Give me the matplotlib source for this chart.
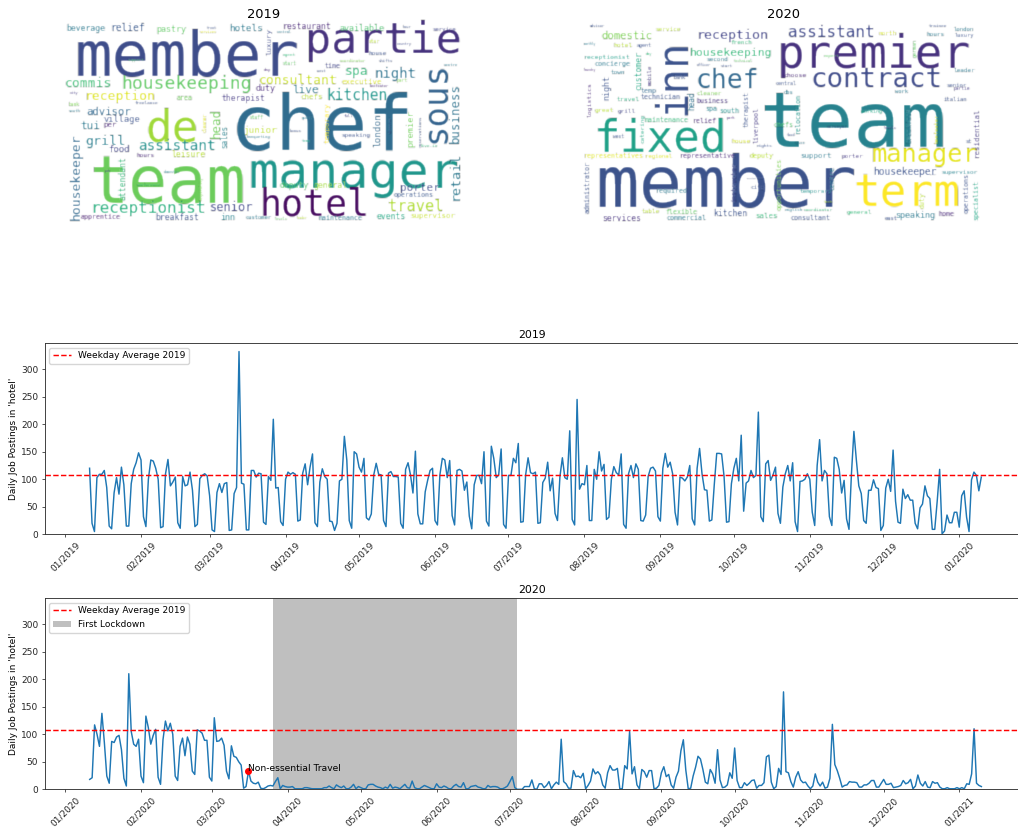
import matplotlib
matplotlib.use('Agg')
import matplotlib.pyplot as plt
import matplotlib.dates as mdates
import numpy as np
import pandas as pd

# daily counts, 2019-01-11 onwards
postings_2019 = [
    120, 20, 5,
    103, 109, 109, 116, 85, 15, 10,
    75, 103, 73, 122, 90, 15, 15,
    92, 118, 130, 148, 135, 32, 14,
    100, 135, 133, 120, 100, 12, 14,
    110, 136, 88, 95, 104, 21, 11,
    105, 88, 90, 113, 80, 14, 18,
    101, 107, 110, 106, 70, 8, 5,
    76, 92, 76, 92, 94, 7, 8,
    74, 85, 332, 93, 91, 8, 8,
    116, 116, 104, 111, 110, 22, 18,
    105, 98, 209, 84, 85, 23, 16,
    100, 113, 109, 112, 109, 24, 26,
    111, 128, 90, 122, 146, 21, 14,
    95, 119, 105, 100, 24, 23, 7,
    20, 97, 100, 178, 135, 25, 11,
    150, 146, 122, 113, 138, 30, 26,
    37, 108, 129, 109, 108, 25, 14,
    111, 114, 105, 105, 104, 20, 11,
    118, 130, 108, 75, 151, 37, 19,
    19, 77, 98, 116, 120, 25, 17,
    108, 138, 135, 103, 134, 34, 17,
    116, 118, 115, 80, 95, 33, 10,
    90, 107, 107, 92, 150, 24, 15,
    160, 138, 103, 108, 155, 18, 11,
    107, 107, 138, 130, 165, 22, 23,
    108, 139, 112, 110, 113, 20, 21,
    94, 102, 131, 79, 102, 38, 25,
    105, 139, 103, 100, 188, 27, 17,
    245, 82, 92, 90, 125, 25, 25,
    118, 100, 150, 115, 127, 27, 31,
    100, 123, 112, 108, 146, 18, 11,
    110, 125, 103, 128, 118, 25, 24,
    35, 105, 120, 122, 115, 32, 24,
    120, 147, 122, 131, 110, 40, 17,
    104, 102, 97, 104, 125, 28, 17,
    120, 156, 110, 81, 80, 24, 26,
    90, 147, 147, 146, 105, 22, 23,
    92, 120, 138, 97, 180, 42, 93,
    97, 116, 103, 107, 222, 32, 23,
    128, 134, 98, 108, 122, 38, 20,
    86, 110, 125, 97, 130, 23, 5,
    96, 97, 100, 110, 100, 40, 16,
    125, 172, 97, 116, 110, 32, 16,
    140, 138, 118, 75, 98, 28, 9,
    110, 187, 135, 88, 74, 25, 20,
    80, 80, 99, 85, 83, 7, 16,
    84, 100, 78, 153, 60, 22, 20,
    82, 65, 72, 62, 62, 20, 10,
    48, 55, 88, 70, 65, 9, 9,
    60, 118, 1, 6, 35, 21, 21,
    40, 40, 13, 70, 79, 31, 5,
    99, 113, 107, 79, 104,
]

# daily counts, 2020-01-11 onwards
postings_2020 = [
    18, 21,
    117, 100, 78, 138, 85, 24, 11,
    87, 85, 95, 98, 72, 20, 6,
    210, 105, 82, 78, 91, 24, 12,
    133, 112, 82, 98, 109, 22, 9,
    90, 124, 106, 120, 100, 24, 16,
    78, 93, 61, 95, 82, 33, 27,
    108, 106, 102, 89, 89, 22, 15,
    130, 87, 88, 93, 80, 33, 19,
    79, 60, 58, 50, 44, 2, 5,
    33, 15, 11, 10, 13, 2, 1,
    3, 6, 7, 6, 14, 21, 1,
    7, 5, 4, 4, 5, 1, 1,
    1, 1, 3, 3, 2, 1, 1,
    1, 1, 1, 3, 3, 6, 3,
    1, 8, 5, 3, 6, 1, 1,
    4, 9, 1, 5, 3, 1, 1,
    8, 9, 9, 6, 4, 3, 1,
    4, 2, 9, 2, 4, 3, 1,
    5, 9, 3, 2, 15, 3, 1,
    1, 4, 7, 5, 3, 1, 1,
    10, 4, 3, 6, 4, 1, 1,
    6, 9, 5, 4, 12, 1, 1,
    5, 6, 7, 4, 3, 1, 1,
    7, 4, 5, 5, 4, 1, 1,
    3, 6, 14, 23, 3, 0, 0, 0,
    5, 5, 5, 17, 1, 0,
    10, 10, 3, 7, 14, 1, 8,
    13, 9, 91, 14, 10, 2, 2,
    34, 23, 24, 21, 29, 1, 7,
    15, 37, 28, 32, 26, 8, 2,
    30, 43, 35, 35, 38, 1, 1,
    43, 37, 105, 28, 41, 8, 1,
    36, 32, 22, 34, 34, 1, 2,
    7, 30, 41, 23, 27, 8, 2,
    22, 33, 70, 90, 35, 1, 2,
    24, 40, 60, 55, 36, 13, 10,
    36, 28, 11, 72, 17, 3, 4,
    8, 30, 20, 75, 16, 3, 3,
    12, 7, 11, 16, 17, 2, 7,
    7, 12, 59, 62, 13, 1, 5,
    38, 27, 177, 32, 30, 14, 4,
    22, 32, 17, 12, 13, 6, 1,
    6, 28, 13, 6, 13, 2, 4,
    20, 118, 45, 34, 20, 4, 7,
    8, 14, 13, 13, 12, 4, 4,
    8, 8, 11, 16, 16, 4, 4,
    11, 18, 9, 9, 11, 3, 4,
    5, 7, 16, 10, 12, 18, 1,
    6, 26, 11, 6, 14, 4, 3,
    14, 11, 12, 4, 1, 1, 3,
    1, 1, 1, 3, 1, 3, 1,
    10, 9, 28, 110, 11, 7, 5,
]

weekday_average = 107
ylabel = "Daily Job Postings in 'hotel'"

words_2019 = [
    'member', 'partie', 'chef', 'team', 'manager', 'hotel', 'de', 'sous', 'housekeeping',
    'reception', 'consultant', 'night', 'spa', 'commis', 'kitchen', 'advisor', 'tui', 'per',
    'village', 'grill', 'assistant', 'head', 'sales', 'junior', 'therapist', 'duty', 'live',
    'chefs', 'time', 'house', 'executive', 'temporary', 'london', 'premier', 'business',
    'retail', 'porter', 'travel', 'senior', 'inn', 'receptionist', 'housekeeper', 'food',
    'hours', 'leisure', 'attendant', 'deputy', 'general', 'speaking', 'apprentice',
    'breakfast', 'customer', 'maintenance', 'events', 'supervisor', 'operations', 'beverage',
    'relief', 'pastry', 'hotels', 'restaurant', 'available', 'luxury', 'service', 'area',
    'bank', 'south', 'city', 'freelance', 'beefeater', 'part', 'west', 'centre', 'star',
    'country', 'staff', 'guest', 'full', 'temp', 'banqueting', 'bonus', 'conference',
    'domestic', 'pub', 'levels', 'leader', 'live-in', 'cleaner', 'hour', 'trent', 'services',
    'central', 'agent', 'start', 'support', 'coordinator', 'shifts', 'day', 'director',
    'hospitality', 'reservations',
]
# word: x, baseline y, em size, rotated, colour (in zoomed image units)
place_2019 = {
    'member': (75, 228, 187, 0, '#3e4c8a'), 'partie': (765, 158, 130, 0, '#46337e'),
    'chef': (540, 450, 230, 0, '#2f6c8e'), 'team': (120, 610, 195, 0, '#6ccd5a'),
    'manager': (595, 565, 150, 0, '#1f968b'), 'hotel': (628, 645, 110, 0, '#470d60'),
    'de': (285, 425, 133, 0, '#a0da39'), 'sous': (1185, 430, 102, 1, '#33638d'),
    'housekeeping': (215, 268, 54, 0, '#5ec962'), 'reception': (105, 300, 39, 0, '#dde318'),
    'consultant': (625, 252, 39, 0, '#c8e020'), 'night': (975, 235, 42, 0, '#2c728e'),
    'spa': (885, 225, 39, 0, '#35b779'), 'commis': (45, 260, 39, 0, '#3dbc74'),
    'kitchen': (830, 300, 44, 0, '#1f968b'), 'advisor': (110, 345, 32, 0, '#31688e'),
    'tui': (90, 388, 33, 0, '#2a788e'), 'per': (160, 380, 22, 0, '#482576'),
    'village': (160, 365, 26, 0, '#3b528b'), 'grill': (105, 435, 40, 0, '#287d8e'),
    'assistant': (265, 450, 43, 0, '#21908c'), 'head': (510, 415, 37, 1, '#6ece58'),
    'sales': (532, 445, 23, 1, '#26828e'), 'junior': (580, 398, 28, 0, '#bddf26'),
    'therapist': (515, 302, 24, 0, '#443983'), 'duty': (615, 273, 25, 0, '#482878'),
    'live': (725, 280, 33, 0, '#2a788e'), 'chefs': (750, 298, 22, 0, '#b8de29'),
    'time': (825, 205, 20, 0, '#414487'), 'house': (955, 165, 18, 0, '#3b528b'),
    'executive': (875, 252, 22, 0, '#d8e219'), 'temporary': (840, 430, 22, 1, '#fde725'),
    'london': (990, 440, 28, 1, '#31688e'), 'premier': (1090, 440, 26, 1, '#6ece58'),
    'business': (1228, 430, 37, 1, '#2c728e'), 'retail': (1225, 600, 40, 1, '#2a788e'),
    'porter': (1050, 572, 33, 0, '#3e4a89'), 'travel': (1015, 632, 46, 0, '#addc30'),
    'senior': (480, 632, 36, 0, '#3f4788'), 'inn': (510, 660, 25, 0, '#26828e'),
    'receptionist': (120, 640, 48, 0, '#29af7f'), 'housekeeper': (90, 660, 39, 1, '#31688e'),
    'food': (175, 455, 27, 0, '#414487'), 'hours': (260, 472, 18, 0, '#482878'),
    'leisure': (365, 472, 24, 0, '#b5de2b'), 'attendant': (225, 600, 24, 1, '#35b779'),
    'deputy': (690, 565, 24, 0, '#52c569'), 'general': (790, 565, 24, 0, '#a0da39'),
    'speaking': (875, 410, 18, 0, '#3b528b'), 'apprentice': (92, 658, 20, 0, '#481f70'),
    'breakfast': (315, 660, 24, 0, '#3b528b'), 'customer': (585, 658, 16, 0, '#2a788e'),
    'maintenance': (805, 660, 20, 0, '#2a788e'), 'events': (980, 658, 24, 0, '#22a884'),
    'supervisor': (1080, 655, 22, 0, '#c2df23'), 'operations': (1030, 592, 20, 0, '#39568c'),
    'beverage': (48, 93, 24, 0, '#2a788e'), 'relief': (180, 93, 29, 0, '#38588c'),
    'pastry': (320, 95, 25, 0, '#5ec962'), 'hotels': (538, 93, 28, 0, '#2a788e'),
    'restaurant': (698, 88, 24, 0, '#482677'), 'available': (868, 92, 25, 0, '#4ac16d'),
    'luxury': (665, 165, 22, 1, '#3e4989'), 'service': (1148, 92, 17, 0, '#404688'),
    'area': (380, 300, 20, 0, '#6ece58'), 'bank': (55, 318, 14, 0, '#7ad151'),
    'south': (55, 335, 12, 0, '#2a788e'), 'city': (60, 283, 11, 0, '#443983'),
    'freelance': (255, 312, 13, 0, '#3b528b'), 'beefeater': (960, 262, 11, 0, '#482878'),
    'part': (1040, 247, 14, 0, '#7ad151'), 'west': (800, 215, 11, 0, '#3b528b'),
    'centre': (1180, 197, 12, 0, '#2a788e'), 'star': (955, 130, 14, 0, '#b5de2b'),
    'country': (1040, 135, 11, 0, '#3e4a89'), 'staff': (600, 358, 14, 0, '#5ec962'),
    'guest': (755, 358, 12, 0, '#2a788e'), 'full': (880, 350, 12, 0, '#414487'),
    'temp': (755, 425, 12, 0, '#22a884'), 'banqueting': (590, 413, 12, 0, '#2a788e'),
    'bonus': (720, 395, 12, 0, '#3b528b'), 'conference': (260, 558, 12, 0, '#35b779'),
    'domestic': (340, 518, 10, 0, '#26828e'), 'pub': (165, 515, 10, 0, '#443983'),
    'levels': (675, 660, 11, 0, '#5ec962'), 'leader': (740, 658, 9, 0, '#b5de2b'),
    'live-in': (1110, 442, 13, 0, '#35b779'), 'cleaner': (470, 395, 14, 1, '#dde318'),
    'hour': (1058, 84, 11, 0, '#3b528b'), 'trent': (470, 87, 10, 0, '#3b528b'),
    'services': (450, 100, 11, 0, '#dde318'), 'central': (680, 100, 11, 0, '#2a788e'),
    'agent': (698, 168, 13, 0, '#35b779'), 'start': (698, 195, 14, 0, '#5ec962'),
    'support': (232, 182, 12, 0, '#4ac16d'), 'coordinator': (870, 185, 12, 0, '#7ad151'),
    'shifts': (985, 185, 12, 0, '#3b528b'), 'day': (640, 212, 12, 0, '#482878'),
    'director': (1025, 400, 11, 1, '#3b528b'), 'hospitality': (458, 600, 11, 1, '#7ad151'),
    'reservations': (1115, 440, 13, 1, '#3b528b'),
}

words_2020 = [
    'team', 'member', 'premier', 'contract', 'chef', 'inn', 'fixed', 'term', 'manager',
    'reception', 'assistant', 'housekeeping', 'domestic', 'hotel', 'receptionist', 'concierge',
    'agent', 'customer', 'town', 'night', 'mobile', 'logistics', 'temp', 'travel', 'technician',
    'great', 'grill', 'head', 'cleaner', 'business', 'spa', 'south', 'therapist', 'liverpool',
    'maintenance', 'relief', 'west', 'catering', 'house', 'deputy', 'support', 'porter',
    'representatives', 'regional', 'representative', 'housekeeper', 'supervisor', 'surveyor',
    'working', 'chefs', 'relocation', 'central', 'choose', 'dbs', 'bank', 'breakfast',
    'beefeater', 'st', 'residential', 'speaking', 'home', 'east', 'general', 'operations',
    'specialist', 'duty', 'temporary', 'centre', 'sales', 'opportunities', 'instructor',
    'kitchen', 'services', 'table', 'flexible', 'commercial', 'consultant', 'required', 'city',
    'administrator', 'hours', 'luxury', 'london', 'leader', 'senior', 'partie', 'italian',
    'work', 'north', 'service', 'german', 'second', 'french', 'advisor', 'trainee', 'expert',
    'food', 'sauce', 'levels', 'nights', 'park', 'english', 'coordinator', 'assistant manager',
    'tech', 'director', 'start', 'laundry', 'monthly', 'day', 'officer', 'technical',
]
place_2020 = {
    'team': (570, 440, 232, 0, '#26828e'), 'member': (75, 620, 217, 0, '#3b528b'),
    'premier': (620, 205, 138, 0, '#46327e'), 'contract': (720, 262, 82, 0, '#3e4a89'),
    'chef': (375, 263, 79, 0, '#31688e'), 'inn': (345, 345, 127, 1, '#3b528b'),
    'fixed': (70, 455, 133, 0, '#1fa187'), 'term': (850, 620, 133, 0, '#fde725'),
    'manager': (905, 485, 76, 0, '#e5e419'), 'reception': (380, 118, 40, 0, '#414487'),
    'assistant': (655, 112, 48, 0, '#3f4889'), 'housekeeping': (360, 168, 34, 0, '#35b779'),
    'domestic': (95, 118, 32, 0, '#7ad151'), 'hotel': (130, 142, 19, 0, '#b5de2b'),
    'receptionist': (42, 178, 19, 0, '#1f9e89'), 'concierge': (72, 198, 20, 0, '#2a788e'),
    'agent': (200, 142, 15, 0, '#3b528b'), 'customer': (215, 270, 24, 1, '#22a884'),
    'town': (122, 222, 18, 0, '#2a788e'), 'night': (118, 300, 25, 1, '#3b528b'),
    'mobile': (245, 255, 17, 1, '#443983'), 'logistics': (65, 350, 19, 1, '#482878'),
    'temp': (212, 278, 20, 0, '#31688e'), 'travel': (140, 302, 19, 0, '#29af7f'),
    'technician': (212, 298, 20, 0, '#3b528b'), 'great': (75, 335, 19, 0, '#b5de2b'),
    'grill': (142, 338, 18, 0, '#414487'), 'head': (372, 330, 23, 1, '#2c728e'),
    'cleaner': (380, 285, 18, 0, '#7ad151'), 'business': (380, 308, 20, 0, '#46327e'),
    'spa': (405, 332, 20, 0, '#26828e'), 'south': (448, 338, 20, 0, '#21908c'),
    'therapist': (535, 380, 20, 1, '#3b528b'), 'liverpool': (565, 430, 20, 1, '#443983'),
    'maintenance': (225, 367, 20, 0, '#35b779'), 'relief': (368, 368, 20, 0, '#482878'),
    'west': (130, 415, 14, 0, '#3b528b'), 'catering': (222, 430, 18, 1, '#22a884'),
    'house': (483, 430, 19, 0, '#d2e21b'), 'deputy': (538, 473, 20, 0, '#b5de2b'),
    'support': (690, 473, 22, 0, '#2a788e'), 'porter': (815, 473, 18, 0, '#443983'),
    'representatives': (42, 475, 20, 0, '#dde318'), 'regional': (225, 475, 17, 0, '#dde318'),
    'representative': (330, 475, 20, 0, '#482878'), 'housekeeper': (910, 525, 29, 0, '#3b528b'),
    'supervisor': (1115, 522, 18, 0, '#26828e'), 'surveyor': (770, 385, 13, 0, '#3b528b'),
    'working': (872, 338, 15, 0, '#22a884'), 'chefs': (610, 380, 20, 0, '#52c569'),
    'relocation': (690, 400, 20, 1, '#1f968b'), 'central': (617, 256, 15, 0, '#3b528b'),
    'choose': (640, 230, 19, 0, '#482878'), 'dbs': (642, 282, 16, 0, '#2a788e'),
    'bank': (310, 236, 15, 0, '#3b528b'), 'breakfast': (1025, 430, 20, 1, '#2a788e'),
    'beefeater': (1105, 430, 16, 1, '#dde318'), 'st': (1185, 430, 16, 0, '#3b528b'),
    'residential': (1225, 470, 22, 1, '#443983'), 'speaking': (975, 655, 25, 0, '#2a788e'),
    'home': (1105, 648, 20, 0, '#482878'), 'east': (945, 660, 16, 0, '#3b528b'),
    'general': (830, 642, 18, 0, '#35b779'), 'operations': (1195, 640, 20, 1, '#3b528b'),
    'specialist': (1225, 660, 20, 1, '#21a685'), 'duty': (1065, 625, 20, 1, '#b5de2b'),
    'temporary': (690, 580, 18, 0, '#21908c'), 'centre': (793, 570, 20, 1, '#26828e'),
    'sales': (555, 655, 22, 0, '#35b779'), 'opportunities': (635, 630, 20, 1, '#7ad151'),
    'instructor': (500, 605, 20, 1, '#414487'), 'kitchen': (430, 648, 24, 0, '#3b528b'),
    'services': (95, 662, 24, 0, '#46327e'), 'table': (215, 640, 18, 0, '#b5de2b'),
    'flexible': (285, 643, 20, 0, '#5ec962'), 'commercial': (290, 660, 20, 0, '#2a788e'),
    'consultant': (660, 660, 20, 0, '#3b528b'), 'required': (258, 580, 20, 0, '#2a788e'),
    'city': (540, 568, 18, 0, '#3b528b'), 'administrator': (58, 640, 20, 1, '#3b528b'),
    'hours': (1068, 108, 18, 0, '#2a788e'), 'luxury': (1155, 110, 16, 0, '#3b528b'),
    'london': (1150, 92, 17, 0, '#2a788e'), 'leader': (1150, 216, 18, 0, '#2a788e'),
    'senior': (1130, 260, 17, 0, '#3b528b'), 'partie': (1150, 270, 14, 0, '#443983'),
    'italian': (1120, 303, 17, 0, '#3b528b'), 'work': (975, 280, 16, 0, '#2a788e'),
    'north': (925, 105, 18, 0, '#d2e21b'), 'service': (255, 92, 18, 0, '#b5de2b'),
    'german': (1040, 170, 15, 1, '#5ec962'), 'second': (408, 184, 18, 0, '#2a788e'),
    'french': (480, 132, 18, 0, '#35b779'), 'advisor': (58, 82, 11, 0, '#3b528b'),
    'trainee': (1075, 82, 13, 0, '#3b528b'), 'expert': (760, 172, 13, 0, '#5ec962'),
    'food': (650, 408, 11, 0, '#3b528b'), 'sauce': (675, 432, 11, 0, '#2a788e'),
    'levels': (940, 388, 11, 0, '#443983'), 'nights': (560, 442, 13, 0, '#3b528b'),
    'park': (470, 357, 11, 0, '#482878'), 'english': (645, 632, 13, 0, '#2a788e'),
    'coordinator': (700, 632, 13, 0, '#35b779'), 'assistant manager': (530, 538, 5, 0, '#3b528b'),
    'tech': (762, 610, 12, 0, '#b5de2b'), 'director': (1080, 525, 4, 0, '#3b528b'),
    'start': (452, 200, 12, 0, '#3b528b'), 'laundry': (42, 214, 9, 0, '#482878'),
    'monthly': (42, 136, 9, 0, '#2a788e'), 'day': (228, 165, 11, 0, '#35b779'),
    'officer': (380, 198, 10, 0, '#3b528b'), 'technical': (490, 185, 11, 0, '#5ec962'),
}


def soft_blur(im, dpi):
    # the wordclouds are low resolution pictures, so soften the letters a bit
    pad = 2
    out = np.pad(im, [(pad, pad), (pad, pad), (0, 0)], 'constant')
    kernel = np.array([1, 4, 1]) / 6
    for axis in (0, 1):
        out = sum(w * np.roll(out, i - 1, axis=axis) for i, w in enumerate(kernel))
    return out, -pad, -pad


def pixel_axes(fig, left, top, right, bottom):
    W, H = fig.canvas.get_width_height()
    return fig.add_axes([left / W, 1 - bottom / H, (right - left) / W, (bottom - top) / H])


def word_cloud(ax, words, place, title, x_offset):
    # one unit is a third of a pixel
    ax.set_xlim((ax_left[title] - x_offset) * 3, (ax_left[title] + 398 - x_offset) * 3)
    ax.set_ylim(666, 66)
    ax.axis('off')
    ax.set_title(title, fontsize=9.4, pad=3)
    for word in words:
        x, y, em, rotated, colour = place[word]
        ax.text(x, y, word, fontsize=em * 0.24, family='DejaVu Sans Mono', color=colour,
                rotation=90 if rotated else 0, rotation_mode='anchor', ha='left', va='baseline',
                agg_filter=soft_blur)


def job_panel(ax, values, start, year, xleft, xright, lockdown=None):
    dates = pd.date_range(start, periods=len(values), freq='D')
    ax.plot(dates, values, lw=1.05, color='#1f77b4')
    ax.axhline(weekday_average, color='red', ls='--', lw=1.05, label='Weekday Average 2019')
    if lockdown:
        ax.axvspan(pd.Timestamp(lockdown[0]), pd.Timestamp(lockdown[1]), color='grey', alpha=0.5,
                   lw=0, label='First Lockdown')
    ax.set_title(year, fontsize=7.8, pad=3.5)
    ax.set_ylabel(ylabel, fontsize=6.5, labelpad=2.5)
    ax.set_ylim(0, 347)
    ax.set_yticks([0, 50, 100, 150, 200, 250, 300])
    base = pd.Timestamp(year + '-01-01')
    ax.set_xlim(base + pd.Timedelta(days=xleft), base + pd.Timedelta(days=xright))
    ax.xaxis.set_major_locator(mdates.MonthLocator())
    ax.xaxis.set_major_formatter(mdates.DateFormatter('%m/%Y'))
    ax.tick_params(labelsize=6.5, length=2, width=0.55, pad=2.5, colors='#262626')
    ax.tick_params(axis='x', labelrotation=45)
    for spine in ax.spines.values():
        spine.set_linewidth(0.65)
        spine.set_color('#333333')
    ax.legend(loc='upper left', fontsize=6.5, borderpad=0.4, handlelength=2, labelspacing=0.5,
              borderaxespad=0.5, handletextpad=0.8)


fig = plt.figure(figsize=(10.18, 8.31), dpi=100)

ax_left = {'2019': 65, '2020': 584}
ax1 = pixel_axes(fig, 65, 22, 463, 222)
word_cloud(ax1, words_2019, place_2019, '2019', 50)
ax2 = pixel_axes(fig, 584, 22, 982, 222)
word_cloud(ax2, words_2020, place_2020, '2020', 570)

ax3 = pixel_axes(fig, 44.5, 343.3, 1020, 534.3)
job_panel(ax3, postings_2019, '2019-01-11', '2019', -8.4, 389.8)

ax4 = pixel_axes(fig, 44.5, 598.3, 1020, 789.3)
job_panel(ax4, postings_2020, '2020-01-11', '2020', -8.5, 390.8,
          lockdown=('2020-03-26', '2020-07-04'))
travel_day = pd.Timestamp('2020-03-16')
ax4.scatter([travel_day], [33], color='red', s=16, zorder=3)
ax4.text(travel_day, 33, 'Non-essential Travel', fontsize=6.6)

fig.savefig('out.png', dpi=100)
